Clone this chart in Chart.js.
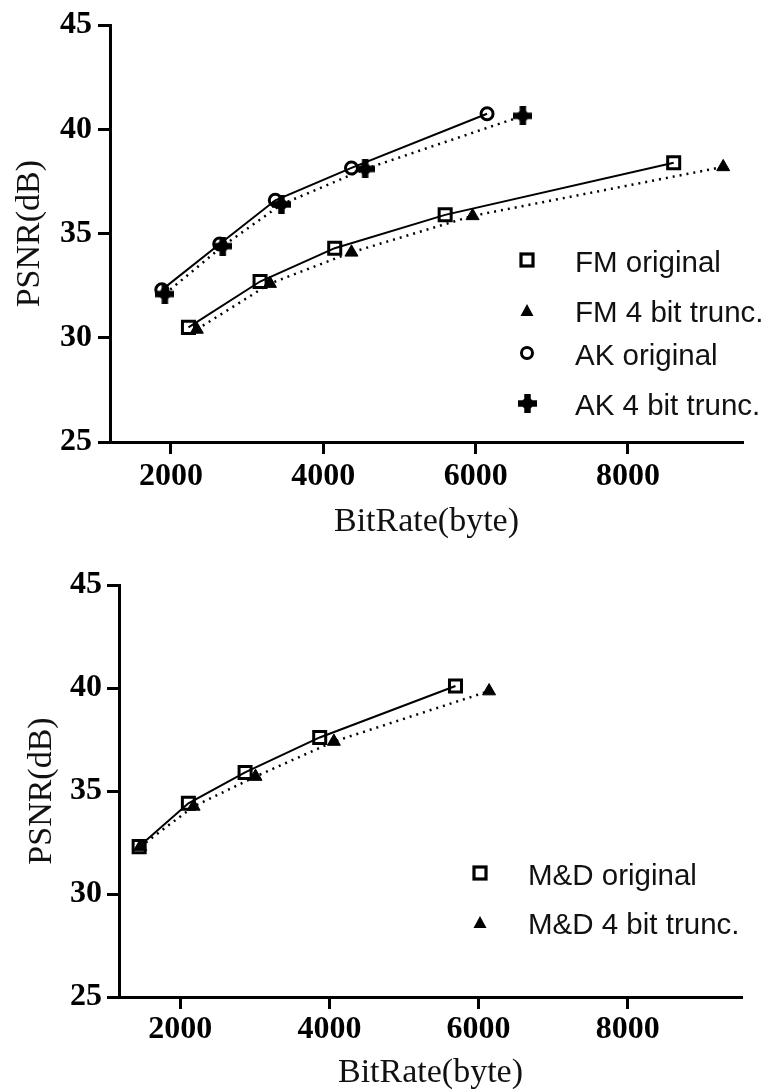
<!DOCTYPE html>
<html><head><meta charset="utf-8">
<script src="https://cdn.jsdelivr.net/npm/chart.js@4.4.1/dist/chart.umd.min.js"></script>
<style>
html,body{margin:0;padding:0;background:#fff;width:770px;height:1092px;overflow:hidden;position:relative}
canvas.chart{position:absolute;left:0}
#c1{top:0}
#c2{top:560px}
.legtxt{position:absolute;font-family:"Liberation Sans",Arial,sans-serif;font-size:29.5px;line-height:29.5px;color:#111;white-space:nowrap}
.legsym{position:absolute}
</style></head><body>
<canvas class="chart" id="c1" width="770" height="560"></canvas>
<canvas class="chart" id="c2" width="770" height="532"></canvas>
<script>
// ---- data ----
const xTicks = [2000, 4000, 6000, 8000];
const yTicks = [25, 30, 35, 40, 45];

const fmOrigX  = [2230, 3170, 4150, 5600, 8600];
const fmOrigY  = [30.5, 32.7, 34.3, 35.9, 38.4];
const fmTruncX = [2340, 3300, 4370, 5960, 9250];
const fmTruncY = [30.4, 32.6, 34.1, 35.85, 38.2];
const akOrigX  = [1880, 2640, 3370, 4370, 6150];
const akOrigY  = [32.3, 34.5, 36.6, 38.15, 40.75];
const akTruncX = [1920, 2680, 3450, 4550, 6620];
const akTruncY = [32.1, 34.4, 36.4, 38.1, 40.65];

const mdOrigX  = [1450, 2110, 2870, 3870, 5690];
const mdOrigY  = [32.3, 34.4, 35.9, 37.6, 40.1];
const mdTruncX = [1465, 2180, 3010, 4060, 6140];
const mdTruncY = [32.3, 34.25, 35.7, 37.4, 39.85];

const topLabels = ['FM original', 'FM 4 bit trunc.', 'AK original', 'AK 4 bit trunc.'];
const botLabels = ['M&D original', 'M&D 4 bit trunc.'];

// ---- helpers ----
const pts = (xs, ys) => xs.map((v, i) => ({x: v, y: ys[i]}));
function plusImg(s){
  const c = document.createElement('canvas'); c.width = c.height = s;
  const g = c.getContext('2d'); g.fillStyle = '#000';
  const a = s * 0.34;
  g.fillRect((s - a) / 2, 0, a, s); g.fillRect(0, (s - a) / 2, s, a);
  g.beginPath(); g.arc(s / 2, s / 2, s * 0.3, 0, Math.PI * 2); g.fill();
  return c;
}
const plus = plusImg(19);

const sty = {
  square:   {pointStyle: 'rect', pointRadius: 8.5, pointBorderWidth: 3, pointBackgroundColor: 'rgba(0,0,0,0)'},
  triangle: {pointStyle: 'triangle', pointRadius: 7.5, pointBorderWidth: 1, pointBackgroundColor: '#000'},
  circle:   {pointStyle: 'circle', pointRadius: 6, pointBorderWidth: 3, pointBackgroundColor: 'rgba(0,0,0,0)'},
  plus:     {pointStyle: plus, pointRadius: 9, pointBorderWidth: 0, pointBackgroundColor: '#000'}
};
function ds(label, xs, ys, s, dotted){
  return Object.assign({
    label, data: pts(xs, ys), showLine: true, borderColor: '#000', pointBorderColor: '#000',
    borderWidth: dotted ? 2.5 : 2, borderDash: dotted ? [2, 5] : [], tension: 0, fill: false, clip: false
  }, s);
}
function opts(cfg){
  const serif = 'Liberation Serif, Times New Roman, serif';
  return {
    responsive: false, animation: false, events: [],
    layout: {padding: {top: cfg.top, right: cfg.right, left: 0, bottom: 0}},
    plugins: {legend: {display: false}, tooltip: {enabled: false}},
    scales: {
      x: {type: 'linear', min: cfg.xmin, max: cfg.xmax,
        afterBuildTicks: s => { s.ticks = xTicks.map(v => ({value: v})); },
        afterFit: s => { s.height = cfg.xh; },
        grid: {display: true, drawOnChartArea: false, drawTicks: true, tickLength: 12, tickWidth: 3, tickColor: '#000', color: '#000'},
        border: {display: true, color: '#000', width: 3},
        ticks: {font: {family: serif, size: 32, weight: 'bold'}, color: '#000', padding: cfg.xpad, maxRotation: 0, autoSkip: false, callback: v => String(v)},
        title: {display: true, text: 'BitRate(byte)', font: {family: serif, size: 34, lineHeight: 1}, color: '#111', padding: {top: 0, bottom: cfg.xtb}}
      },
      y: {type: 'linear', min: 25, max: 45,
        afterBuildTicks: s => { s.ticks = yTicks.map(v => ({value: v})); },
        afterFit: s => { s.width = cfg.yw; },
        grid: {display: true, drawOnChartArea: false, drawTicks: true, tickLength: 12, tickWidth: 3, tickColor: '#000', color: '#000'},
        border: {display: true, color: '#000', width: 3},
        ticks: {font: {family: serif, size: 32, weight: 'bold'}, color: '#000', padding: cfg.ypad, autoSkip: false, callback: v => String(v)},
        title: {display: true, text: 'PSNR(dB)', font: {family: serif, size: 34, lineHeight: 1}, color: '#111', padding: {top: cfg.ytp, bottom: 0}}
      }
    }
  };
}

new Chart(document.getElementById('c1'), {
  type: 'scatter',
  data: {datasets: [
    ds(topLabels[0], fmOrigX, fmOrigY, sty.square, false),
    ds(topLabels[1], fmTruncX, fmTruncY, sty.triangle, true),
    ds(topLabels[2], akOrigX, akOrigY, sty.circle, false),
    ds(topLabels[3], akTruncX, akTruncY, sty.plus, true)
  ]},
  options: opts({top: 23, right: 27, xmin: 1200, xmax: 9510, xh: 118, yw: 110, xpad: 4, xtb: 21, ypad: 6, ytp: 13})
});
new Chart(document.getElementById('c2'), {
  type: 'scatter',
  data: {datasets: [
    ds(botLabels[0], mdOrigX, mdOrigY, sty.square, false),
    ds(botLabels[1], mdTruncX, mdTruncY, sty.triangle, true)
  ]},
  options: opts({top: 25, right: 28, xmin: 1180, xmax: 9530, xh: 95, yw: 119, xpad: 2, xtb: 2, ypad: 5, ytp: 25})
});

// ---- legends (HTML text) ----
function symSvg(kind){
  const ns = 'http://www.w3.org/2000/svg';
  if (kind === 'plus') { const c = plusImg(19); c.className = 'legsym'; return {el: c, w: 19, h: 19}; }
  const svg = document.createElementNS(ns, 'svg');
  svg.setAttribute('width', 18); svg.setAttribute('height', 18); svg.setAttribute('class', 'legsym');
  let sh;
  if (kind === 'square') { sh = document.createElementNS(ns, 'rect'); sh.setAttribute('x', 3); sh.setAttribute('y', 3); sh.setAttribute('width', 12); sh.setAttribute('height', 12); sh.setAttribute('fill', 'none'); sh.setAttribute('stroke', '#000'); sh.setAttribute('stroke-width', 3.2); }
  if (kind === 'triangle') { sh = document.createElementNS(ns, 'polygon'); sh.setAttribute('points', '9,3 15.5,15 2.5,15'); sh.setAttribute('fill', '#000'); }
  if (kind === 'circle') { sh = document.createElementNS(ns, 'circle'); sh.setAttribute('cx', 9); sh.setAttribute('cy', 9); sh.setAttribute('r', 5.5); sh.setAttribute('fill', 'none'); sh.setAttribute('stroke', '#000'); sh.setAttribute('stroke-width', 3); }
  svg.appendChild(sh);
  return {el: svg, w: 18, h: 18};
}
function legend(labels, kinds, sx, tx, rows){
  labels.forEach((t, i) => {
    const s = symSvg(kinds[i]);
    s.el.style.left = (sx - s.w / 2) + 'px'; s.el.style.top = (rows[i] - s.h / 2) + 'px';
    document.body.appendChild(s.el);
    const d = document.createElement('div'); d.className = 'legtxt'; d.textContent = t;
    d.style.left = tx + 'px'; d.style.top = (rows[i] - 13) + 'px';
    document.body.appendChild(d);
  });
}
legend(topLabels, ['square', 'triangle', 'circle', 'plus'], 527, 575, [260, 310, 353, 403]);
legend(botLabels, ['square', 'triangle'], 480, 528, [873, 922]);
</script>
</body></html>
